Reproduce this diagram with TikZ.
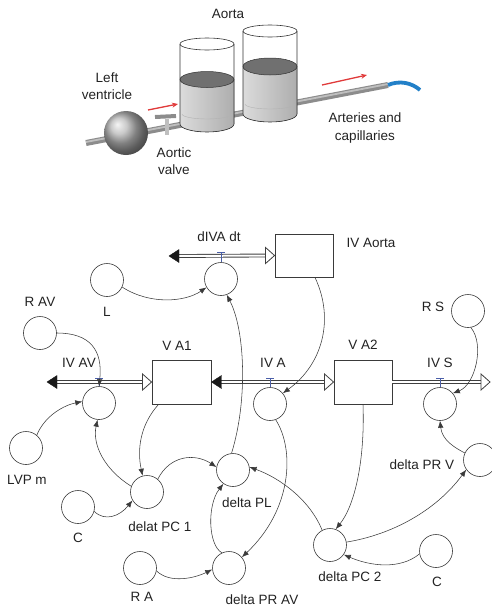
\documentclass[tikz,border=0pt]{standalone}
\usepackage{fontspec}
\setmainfont{Liberation Sans}
\usetikzlibrary{arrows.meta,calc}
\definecolor{txt}{HTML}{222222}
\definecolor{ink}{HTML}{3A3A3A}
\definecolor{valveblue}{HTML}{4A5EA8}
\definecolor{flowred}{HTML}{E03A3A}
\definecolor{vesselblue}{HTML}{2280C8}
\begin{document}
\begin{tikzpicture}[x=1pt,y=-1pt,
  every node/.style={font=\fontsize{13.5}{17.5}\selectfont, text=txt},
  conv/.style={circle, draw=ink, line width=0.6pt, fill=white, minimum size=33pt, inner sep=0pt},
  stock/.style={rectangle, draw=ink, line width=0.9pt, fill=white, minimum width=58pt, minimum height=44pt, inner sep=0pt},
  link/.style={draw=ink, line width=0.55pt, -{Latex[length=7pt,width=5.5pt]}},
  pipe/.style={draw=black!75, line width=0.9pt, double=white, double distance=2pt},
  inhead/.style={fill=black!90, draw=black!90, line width=0.4pt, line join=miter},
  outhead/.style={fill=white, draw=black!75, line width=0.8pt, line join=miter},
  tick/.style={draw=valveblue, line width=0.7pt},
  glass/.style={draw=black!80, line width=0.6pt},
  redflow/.style={draw=flowred, line width=1.3pt, -{Stealth[length=6pt,width=5pt]}}
]
\useasboundingbox (0,0) rectangle (491,608);

% ---------------- vessel model ----------------
% main artery tube
\draw[line width=6pt, black!45] (86,143) -- (388,85);
\draw[line width=1.8pt, black!25] (86,142) -- (388,84);
% distal vessel
\draw[vesselblue, line width=3.8pt] (388,85) .. controls (400,80) and (412,83) .. (420,90);

% left ventricle
\shade[ball color=black!28] (126,133) circle[radius=22pt];

% aortic valve
\draw[line width=4pt, black!25] (167,119) -- (167,135);
\draw[line width=4pt, left color=black!15, right color=black!60, draw=black!45] (155,117) -- (176,116);

% first aortic compartment
\fill[left color=black!14, right color=black!32] (180,79.5) -- (180,124) arc[start angle=180,end angle=360,x radius=27pt,y radius=8pt] -- (234,79.5) -- cycle;
\draw[white!70!black, line width=0.4pt] (182,114) arc[start angle=180,end angle=360,x radius=25pt,y radius=5pt];
\filldraw[fill=black!56, draw=black!80, line width=0.5pt] (207,79.5) ellipse[x radius=27pt, y radius=8pt];
\draw[glass] (207,44) ellipse[x radius=27pt, y radius=6pt];
\draw[glass] (180,44) -- (180,124) arc[start angle=180,end angle=360,x radius=27pt,y radius=8pt] -- (234,44);

% second aortic compartment
\fill[left color=black!14, right color=black!32] (243,66.5) -- (243,114) arc[start angle=180,end angle=360,x radius=27pt,y radius=8pt] -- (297,66.5) -- cycle;
\draw[white!70!black, line width=0.4pt] (245,104) arc[start angle=180,end angle=360,x radius=25pt,y radius=5pt];
\filldraw[fill=black!56, draw=black!80, line width=0.5pt] (270,66.5) ellipse[x radius=27pt, y radius=8.5pt];
\draw[glass] (270,31) ellipse[x radius=27pt, y radius=6pt];
\draw[glass] (243,31) -- (243,114) arc[start angle=180,end angle=360,x radius=27pt,y radius=8pt] -- (297,31);

% flow direction
\draw[redflow] (148,110) -- (178,104);
\draw[redflow] (322,85) -- (367,75);

\node (tAorta) at (228,14) {Aorta};
\node[align=center] (tLV) at (107,86) {Left\\ventricle};
\node[align=center] (tValve) at (174,161) {Aortic\\valve};
\node[align=center] (tArt) at (365,128) {Arteries and\\capillaries};

% ---------------- stock and flow model ----------------
\node[stock, minimum height=43pt] (bAorta) at (304,255.5) {};
\node[stock, minimum width=59pt] (bVA1) at (181.5,382) {};
\node[stock] (bVA2) at (363,382) {};

\node[conv] (cDIVA) at (221,279) {};
\node[conv] (cIVAV) at (99,403) {};
\node[conv] (cIVA) at (270,404) {};
\node[conv] (cIVS) at (440,404) {};

\node[conv] (cL) at (107,280) {};
\node[conv] (cRAV) at (40,333) {};
\node[conv] (cLVP) at (26,448) {};
\node[conv] (cC1) at (78,507) {};
\node[conv] (cPC1) at (147,492) {};
\node[conv] (cPL) at (233,470) {};
\node[conv] (cRA) at (140,568) {};
\node[conv] (cPRAV) at (229,568) {};
\node[conv] (cPC2) at (330,545) {};
\node[conv] (cC2) at (436,551) {};
\node[conv] (cPRV) at (480,460) {};
\node[conv] (cRS) at (468,311) {};

% labels
\node (lDIVA) at (219,237) {dIVA dt};
\node (lAorta) at (371,243) {IV Aorta};
\node (lIVAV) at (79,363) {IV AV};
\node (lVA1) at (177,346) {V A1};
\node (lIVA) at (273,363) {IV A};
\node (lVA2) at (363,345) {V A2};
\node (lIVS) at (440,363) {IV S};
\node (lL) at (107,312) {L};
\node (lRAV) at (40,302) {R AV};
\node (lLVP) at (27,480) {LVP m};
\node (lC1) at (78,538) {C};
\node (lPC1) at (160,527) {delat PC 1};
\node (lPL) at (247,503) {delta PL};
\node (lRA) at (142,597) {R A};
\node (lPRAV) at (262,600) {delta PR AV};
\node (lPC2) at (350,577) {delta PC 2};
\node (lC2) at (437,582) {C};
\node (lPRV) at (422,465) {delta PR V};
\node (lRS) at (433,307) {R S};

% flow pipes
\coordinate (sDIVA) at (169,256);
\coordinate (sIVAV) at (47,382);
\coordinate (eIVS) at (490,382);

\draw[pipe] ($(sDIVA)+(10,0)$) -- ($(bAorta.west)+(-9,0)$);
\draw[pipe] ($(sIVAV)+(10,0)$) -- ($(bVA1.west)+(-9,0)$);
\draw[pipe] ($(bVA1.east)+(10,0)$) -- ($(bVA2.west)+(-9,0)$);
\draw[pipe] (bVA2.east) -- ($(eIVS)+(-9,0)$);

\fill[inhead] (sDIVA) -- ++(10,-6.5) -- ++(0,13) -- cycle;
\fill[inhead] (sIVAV) -- ++(10,-6.5) -- ++(0,13) -- cycle;
\filldraw[inhead] (bVA1.east) -- ++(10,-6.5) -- ++(0,13) -- cycle;
\filldraw[outhead] (bAorta.west) -- ++(-9,-8) -- ++(0,16) -- cycle;
\filldraw[outhead] (bVA1.west) -- ++(-9,-8) -- ++(0,16) -- cycle;
\filldraw[outhead] (bVA2.west) -- ++(-9,-8) -- ++(0,16) -- cycle;
\filldraw[outhead] (eIVS) -- ++(-9,-8) -- ++(0,16) -- cycle;

% valves on the pipes
\draw[tick] (221,252) -- (cDIVA.north);
\draw[tick] (217,252) -- (225,252);
\draw[tick] (99,378) -- (cIVAV.north);
\draw[tick] (95,378) -- (103,378);
\draw[tick] (270,378) -- (cIVA.north);
\draw[tick] (266,378) -- (274,378);
\draw[tick] (440,378) -- (cIVS.north);
\draw[tick] (436,378) -- (444,378);

% information links
\draw[link] (cL.-25) .. controls (150,305) and (185,302) .. (cDIVA.210);
\draw[link] (cPL.95) .. controls (248,400) and (245,330) .. (cDIVA.-70);
\draw[link] (cRAV.0) .. controls (90,333) and (103,350) .. (cIVAV.90);
\draw[link] (cLVP.50) .. controls (45,415) and (65,405) .. (cIVAV.175);
\draw[link] ([xshift=11pt]bAorta.south) .. controls (335,320) and (322,365) .. (cIVA.40);
\draw[link] ([xshift=-23pt]bVA1.south) .. controls (140,425) and (137,450) .. (cPC1.105);
\draw[link] (cPC1.160) .. controls (105,470) and (92,445) .. (cIVAV.-95);
\draw[link] (cC1.-15) .. controls (105,522) and (120,516) .. (cPC1.210);
\draw[link] (cPC1.50) .. controls (170,455) and (195,453) .. (cPL.170);
\draw[link] (cRA.-10) .. controls (170,584) and (195,578) .. (cPRAV.185);
\draw[link] (cPRAV.115) .. controls (208,545) and (207,505) .. (cPL.-125);
\draw[link] (cIVA.-70) .. controls (295,450) and (292,510) .. (cPRAV.40);
\draw[link] (bVA2.south) .. controls (365,460) and (355,505) .. (cPC2.70);
\draw[link] (cPC2.118) .. controls (310,500) and (280,478) .. (cPL.10);
\draw[link] (cPC2.10) .. controls (390,535) and (435,512) .. (cPRV.215);
\draw[link] (cPRV.155) .. controls (455,448) and (442,440) .. (cIVS.-90);
\draw[link] (cC2.190) .. controls (400,570) and (370,566) .. (cPC2.-35);
\draw[link] (cRS.-80) .. controls (485,345) and (475,385) .. (cIVS.40);
\end{tikzpicture}
\end{document}
